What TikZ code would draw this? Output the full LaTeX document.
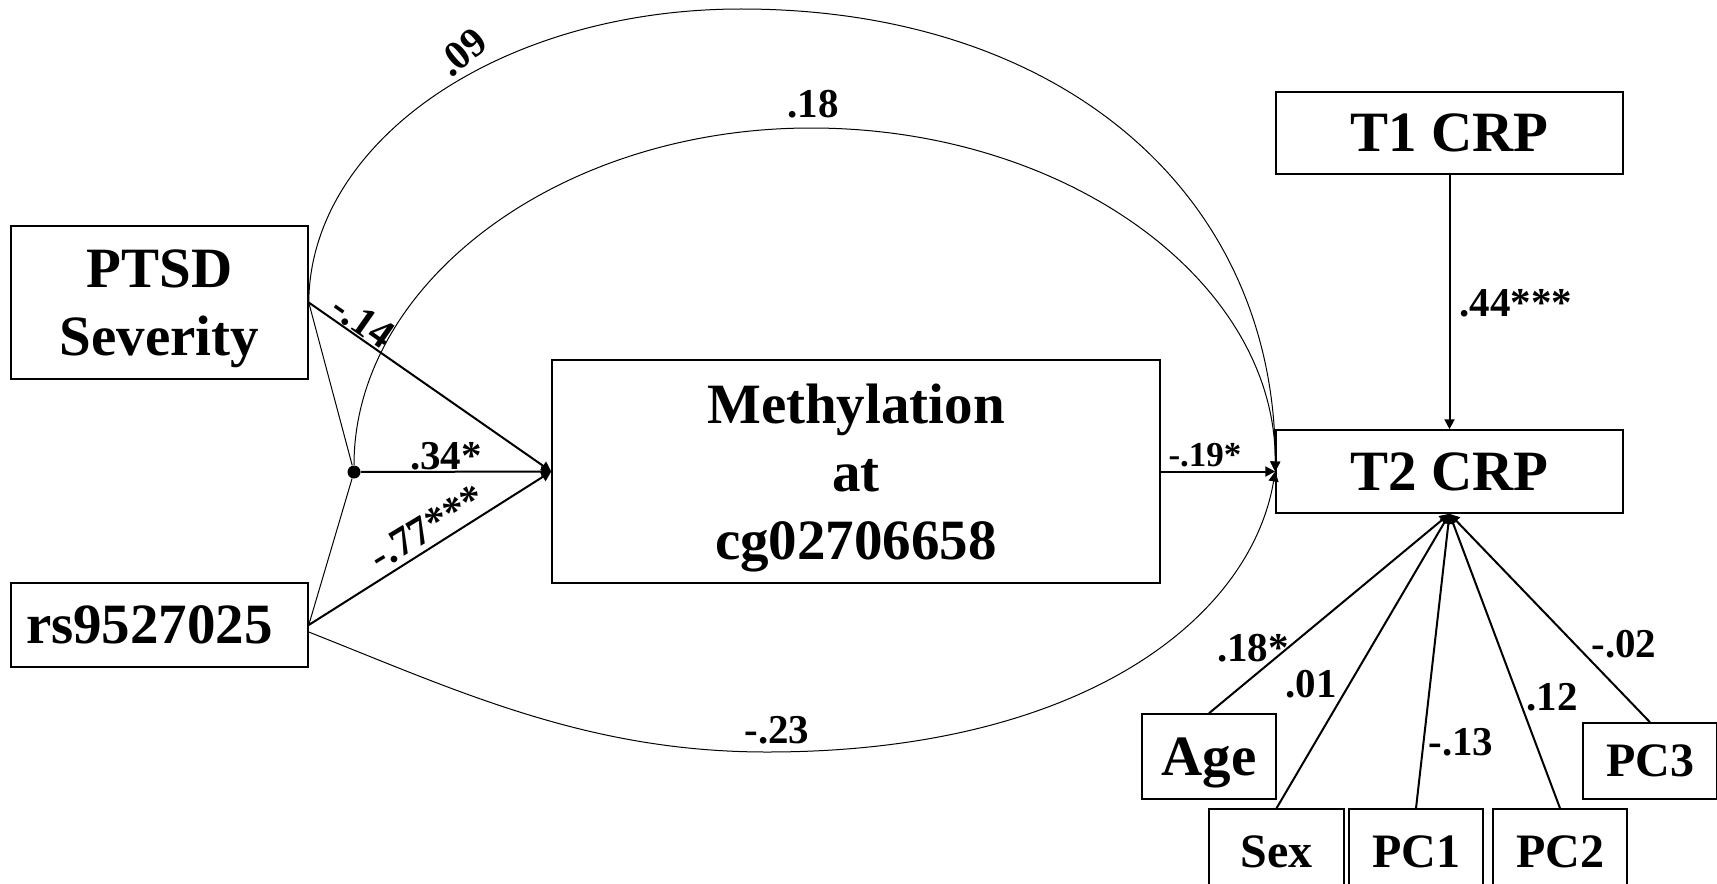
\documentclass[tikz,border=0pt]{standalone}
\usepackage{fontspec}
\setmainfont{Liberation Serif}
\usetikzlibrary{arrows.meta,calc}
\begin{document}
\begin{tikzpicture}[x=0.5pt,y=-0.5pt,
  box/.style={draw, line width=0.75pt, inner sep=0pt, align=center, text depth=0pt,
    font=\bfseries\fontsize{28.5}{34}\selectfont},
  sbox/.style={box, minimum width=67pt, font=\bfseries\fontsize{24}{28}\selectfont},
  lab/.style={inner sep=0pt, text depth=0pt, font=\bfseries\fontsize{20.5}{24}\selectfont},
  slab/.style={lab, font=\bfseries\fontsize{17.5}{21}\selectfont},
  parrow/.style={line width=1pt, -{Triangle[length=5pt,width=5pt]}},
  thinline/.style={line width=0.5pt},
  curv/.style={line width=0.5pt, -{Triangle[length=5pt,width=5pt]}},
]
\useasboundingbox (0,0) rectangle (1717,883);

% boxes
\node[box, minimum width=148.5pt, minimum height=76.5pt] (ptsd) at (159.5,302.5) {PTSD\\Severity};
\node[box, minimum width=148.5pt, minimum height=42pt] (rs) at (159.5,625) {rs9527025\hspace*{10pt}};
\node[box, minimum width=304pt, minimum height=111.5pt] (meth) at (856,471.5) {Methylation\\at\\cg02706658};
\node[box, minimum width=173.5pt, minimum height=41pt] (t1) at (1449.5,133) {T1 CRP};
\node[box, minimum width=173.5pt, minimum height=41.5pt] (t2) at (1449.5,471.5) {T2 CRP};
\node[box, minimum width=67pt, minimum height=42.5pt] (age) at (1209,756.5) {Age};
\node[sbox, minimum width=67.5pt, minimum height=42.5pt] (sex) at (1276.5,851.5) {Sex};
\node[sbox, minimum height=42.5pt] (pc1) at (1416,851.5) {PC1};
\node[sbox, minimum height=42.5pt] (pc2) at (1560,851.5) {PC2};
\node[sbox, minimum height=38pt] (pc3) at (1650,761) {PC3};

% interaction dot
\node[circle, fill, inner sep=0pt, minimum size=6.5pt] (dot) at (354,472) {};
\draw[thinline] (ptsd.east) -- (dot);
\draw[thinline] (rs.east) -- (dot);

% curved direct paths
\draw[curv] (ptsd.east) .. controls (310,140) and (502,9) .. (741,9)
  .. controls (1062,9) and (1276,194) .. (t2.west);
\draw[curv] (dot.north) .. controls (354,283) and (559,128) .. (811,128)
  .. controls (1068,128) and (1276,282) .. (t2.west);
\draw[curv] ($(rs.east)+(0,7)$) .. controls (458,691) and (587,752) .. (767,752)
  .. controls (1080,752) and (1250,620) .. (t2.west);

% straight paths
\draw[parrow] (ptsd.east) -- (meth.west);
\draw[parrow] (dot) -- (meth.west);
\draw[parrow] (rs.east) -- (meth.west);
\draw[parrow] (meth.east) -- (t2.west);
\draw[parrow] (t1.south) -- (t2.north);
\foreach \n in {age,sex,pc1,pc2,pc3} \draw[parrow] (\n.north) -- (t2.south);

% labels
\node[lab, rotate=40] (l09) at (462,52) {.09};
\node[lab] (l18) at (813,104) {.18};
\node[lab, rotate=-35] (l14) at (363,321) {-.14};
\node[lab] (l34) at (446,456) {.34*};
\node[lab, rotate=31] (l77) at (427,527) {-.77***};
\node[lab] (l23) at (777,730) {-.23};
\node[slab] (l19) at (1205,455) {-.19*};
\node[lab] (l44) at (1516,303) {.44***};
\node[lab] (lage) at (1253,648) {.18*};
\node[lab] (lsex) at (1311,684) {.01};
\node[lab] (lpc1) at (1461,742) {-.13};
\node[lab] (lpc2) at (1552,697) {.12};
\node[lab] (lpc3) at (1624,644) {-.02};
\end{tikzpicture}
\end{document}
